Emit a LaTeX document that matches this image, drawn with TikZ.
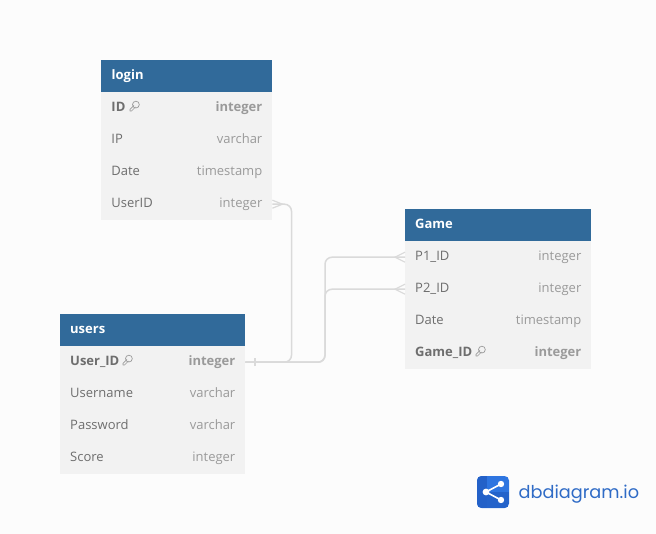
\documentclass[tikz,border=0pt]{standalone}
\usepackage{fontspec}
\setmainfont{Open Sans}
\newfontfamily\logofont{Poppins}
\definecolor{hdr}{HTML}{316A9A}
\definecolor{rowbg}{HTML}{F2F2F2}
\definecolor{bgc}{HTML}{FCFCFC}
\definecolor{namec}{HTML}{6E6E6E}
\definecolor{typec}{HTML}{9A9A9A}
\definecolor{linec}{HTML}{DADADA}
\definecolor{logoa}{HTML}{2E75E0}
\definecolor{logob}{HTML}{2361C8}
\definecolor{logot}{HTML}{2F6BC6}
\tikzset{
  x=1pt,y=-1pt,
  hdrbox/.style={fill=hdr,anchor=north west,minimum height=32pt,inner sep=0pt},
  hdrtext/.style={text=white,font=\fontsize{13}{13}\selectfont\bfseries,anchor=base west,inner sep=0pt},
  rowbox/.style={fill=rowbg,anchor=north west,minimum height=32pt,inner sep=0pt},
  fname/.style={text=namec,font=\fontsize{13}{13}\selectfont,anchor=base west,inner sep=0pt},
  ftype/.style={text=typec,font=\fontsize{13}{13}\selectfont,anchor=base east,inner sep=0pt},
  fnameb/.style={fname,font=\fontsize{13}{13}\selectfont\bfseries},
  ftypeb/.style={ftype,font=\fontsize{13}{13}\selectfont\bfseries},
  rel/.style={draw=linec,line width=1.5pt,rounded corners=7pt},
  relthin/.style={draw=linec,line width=1.2pt},
  keyicon/.style={draw=typec,line width=.7pt},
}
\newcommand{\frow}[6]{%
  \node[rowbox,minimum width=#4pt] (#1) at (#2,#3) {};
  \node[fname] (#1n) at (#2+10,#3+19.5) {#5};
  \node[ftype] (#1t) at (#2+#4-9.5,#3+19.5) {#6};
}
\newcommand{\frowb}[6]{%
  \node[rowbox,minimum width=#4pt] (#1) at (#2,#3) {};
  \node[fnameb] (#1n) at (#2+10,#3+19.5) {#5};
  \node[ftypeb] (#1t) at (#2+#4-9.5,#3+19.5) {#6};
}
% key icon: ring at upper right, shaft to lower left; #1,#2 = icon centre
\newcommand{\keymark}[2]{%
  \begin{scope}[shift={(#1,#2)}]
    \draw[keyicon,line join=round] (-0.6,-0.6) -- (-4.6,3.4) -- (-4.6,5) -- (-3,5) -- (1,1);
    \draw[keyicon] (1.4,-1.4) circle (3.4);
  \end{scope}
}
\begin{document}
\begin{tikzpicture}
\useasboundingbox (0,0) rectangle (656,534);
\fill[bgc] (0,0) rectangle (656,534);

% login
\node[hdrbox,minimum width=170.75pt] (login) at (101.25,60) {};
\node[hdrtext] (logint) at (111.5,80) {login};
\frowb{lid}{101.25}{92}{170.75}{ID}{integer}
\frow{lip}{101.25}{124}{170.75}{IP}{varchar}
\frow{ldate}{101.25}{156}{170.75}{Date}{timestamp}
\frow{luser}{101.25}{188}{170.75}{UserID}{integer}
\keymark{134.5}{106}

% users
\node[hdrbox,minimum width=185pt] (users) at (60,314) {};
\node[hdrtext] (userst) at (70,334) {users};
\frowb{uid}{60}{346}{185}{User\_ID}{integer}
\frow{uname}{60}{378}{185}{Username}{varchar}
\frow{upass}{60}{410}{185}{Password}{varchar}
\frow{uscore}{60}{442}{185}{Score}{integer}
\keymark{127.5}{360}

% Game
\node[hdrbox,minimum width=186pt] (game) at (405,209) {};
\node[hdrtext] (gamet) at (415,229) {Game};
\frow{gp1}{405}{241}{186}{P1\_ID}{integer}
\frow{gp2}{405}{273}{186}{P2\_ID}{integer}
\frow{gdate}{405}{305}{186}{Date}{timestamp}
\frowb{gid}{405}{337}{186}{Game\_ID}{integer}
\keymark{480.5}{351}

% connectors
\coordinate (va) at (291.5,0);
\coordinate (vb) at (325,0);
\draw[rel] (uid.east) -- (uid.east -| va) -- (luser.east -| va) -- (luser.east);
\draw[rel] (uid.east) -- (uid.east -| vb) -- (gp1.west -| vb) -- (gp1.west);
\draw[rel] (uid.east) -- (uid.east -| vb) -- (gp2.west -| vb) -- (gp2.west);
% one mark
\coordinate (ubar) at (255,0);
\draw[relthin] ([yshift=-4pt]uid.east -| ubar) -- ([yshift=4pt]uid.east -| ubar);
% many marks
\draw[relthin] ([yshift=-4pt]luser.east) -- ([xshift=10pt]luser.east) -- ([yshift=4pt]luser.east);
\draw[relthin] ([yshift=-5pt]gp1.west) -- ([xshift=-10pt]gp1.west) -- ([yshift=5pt]gp1.west);
\draw[relthin] ([yshift=-5pt]gp2.west) -- ([xshift=-10pt]gp2.west) -- ([yshift=5pt]gp2.west);

% logo
\fill[logoa,rounded corners=4.5pt] (477,476) rectangle (509,508);
\begin{scope}
  \clip[rounded corners=4.5pt] (477,476) rectangle (509,508);
  \fill[logob] (477,476) rectangle (487,508);
  \fill[logob!90!logoa] (487,492) rectangle (509,508);
\end{scope}
\draw[white,line width=1.6pt] (501,484) -- (486,492) -- (501,500);
\fill[white] (486,492) circle (3.4);
\fill[white] (501,484) circle (3.2);
\fill[white] (501,500) circle (3.2);
\node[anchor=base west,inner sep=0pt,text=logot,font=\logofont\fontsize{17.7}{18}\selectfont] (logotext) at (518.5,498.5) {dbdiagram.io};
\end{tikzpicture}
\end{document}
